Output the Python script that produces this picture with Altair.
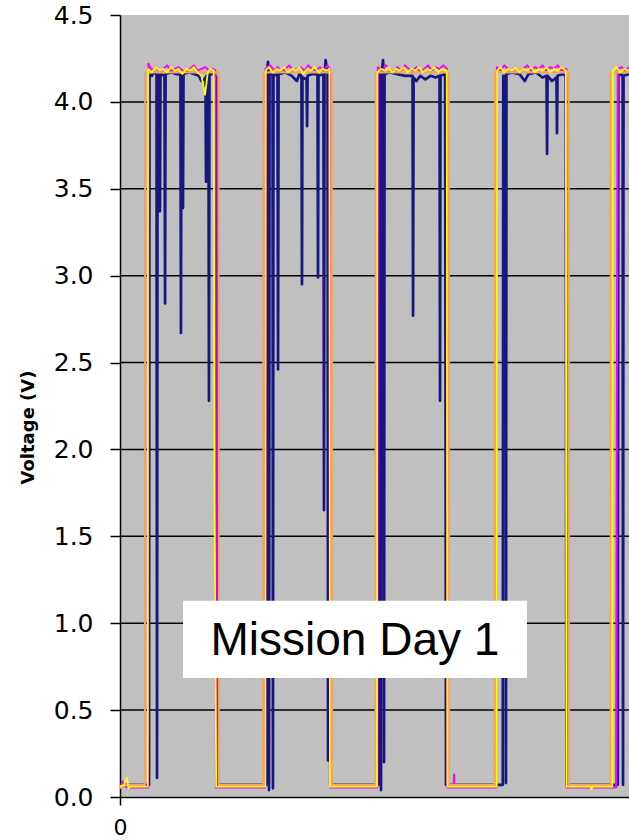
import altair as alt
import pandas as pd

# Time axis in minutes, voltages in volts.
navy_t = [0, 22.8, 23.2, 25.0, 26.5,
          28.7, 29.1, 29.5, 31.0, 31.4, 31.8, 35.0, 35.4, 35.8, 40, 44,
          47.5, 47.9, 48.3, 49.1, 49.5, 49.9, 54, 58, 62, 64, 66,
          67.2, 67.6, 68.0, 69.5, 69.9, 70.3, 74, 75.8, 76.4, 77,
          115.0, 115.4, 116.3, 116.8, 117.1, 117.5, 119.9, 120.2, 120.6,
          123.8, 124.2, 124.6, 130, 135, 139, 141, 142.6, 143.0, 143.4,
          146.6, 147.0, 147.4, 151, 155.2, 155.6, 156.0, 159.9, 160.3, 160.7,
          161.6, 163.1, 163.5, 163.9, 164.6, 165.2,
          203.0, 203.4, 204.8, 205.1, 205.5, 206.7, 207.2, 207.5, 207.9,
          212, 218, 224, 229.9, 230.3, 230.7, 233, 236, 240, 244, 248,
          251.1, 251.5, 251.9, 255.5, 256.2,
          300.8, 301.2, 303.0, 303.3, 303.7, 308, 314, 318, 321, 327, 332,
          335.2, 335.6, 336.0, 339.5, 343.0, 343.4, 343.8, 348, 350.3, 350.8,
          391.2, 391.6, 394, 395.0, 395.3, 395.7, 400]
navy_v = [0.07, 0.07, 4.16, 4.15, 4.17,
          4.16, 0.11, 4.15, 4.16, 3.37, 4.16, 4.15, 2.84, 4.16, 4.17, 4.16,
          4.16, 2.67, 4.15, 4.15, 3.39, 4.16, 4.17, 4.16, 4.15, 4.12, 4.13,
          4.14, 3.54, 4.15, 4.15, 2.28, 4.16, 4.16, 4.14, 0.09, 0.07,
          0.07, 4.16, 4.23, 4.16, 0.04, 4.16, 4.16, 0.05, 4.15,
          4.16, 2.46, 4.16, 4.17, 4.15, 4.12, 4.16, 4.15, 2.95, 4.14,
          4.13, 3.86, 4.15, 4.16, 4.16, 2.99, 4.15, 4.16, 1.65, 4.16,
          4.24, 4.16, 0.21, 4.15, 4.15, 0.07,
          0.07, 4.16, 4.16, 0.04, 4.16, 4.24, 4.16, 0.20, 4.16,
          4.17, 4.16, 4.15, 4.15, 2.77, 4.14, 4.12, 4.15, 4.13, 4.15, 4.14,
          4.15, 2.28, 4.15, 4.16, 0.07,
          0.07, 4.15, 4.15, 0.08, 4.16, 4.17, 4.16, 4.12, 4.16, 4.17, 4.14,
          4.15, 3.70, 4.15, 4.12, 4.14, 3.82, 4.15, 4.16, 4.15, 0.07,
          0.07, 4.15, 4.16, 4.15, 0.07, 4.15, 4.16]

magenta_t = [0, 2, 4, 6, 22.0, 22.3, 25, 28, 31, 34, 37, 40, 43, 46, 49, 52, 55, 58,
             61, 64, 67, 70, 73, 75.0, 75.4,
             114.0, 114.4, 118, 121, 124, 127, 130, 133, 136, 139, 142, 145, 148,
             151, 154, 157, 160, 163, 164.8, 165.2,
             202.2, 202.6, 206, 209, 212, 215, 218, 221, 224, 227, 230, 233, 236,
             239, 242, 245, 248, 251, 254, 257.0, 257.4, 262.2, 262.5, 262.8,
             295.8, 296.2, 299, 302, 305, 308, 311, 314, 317, 320, 323, 326, 329,
             332, 335, 338, 341, 344, 347, 350.6, 351.0,
             389.8, 390.4, 391.2, 394, 397, 400]
magenta_v = [0.05, 0.09, 0.06, 0.055, 0.055, 4.22, 4.18, 4.20, 4.17, 4.19, 4.21, 4.18,
             4.19, 4.20, 4.18, 4.17, 4.19, 4.21, 4.18, 4.19, 4.20, 4.18, 4.19, 4.18, 0.055,
             0.055, 4.19, 4.21, 4.18, 4.20, 4.17, 4.19, 4.21, 4.18, 4.19, 4.20, 4.18, 4.21,
             4.19, 4.18, 4.20, 4.18, 4.21, 4.19, 0.055,
             0.055, 4.20, 4.18, 4.21, 4.19, 4.17, 4.20, 4.18, 4.21, 4.19, 4.18, 4.20, 4.17,
             4.19, 4.21, 4.18, 4.20, 4.19, 4.21, 4.19, 0.055, 0.055, 0.13, 0.055,
             0.055, 4.20, 4.18, 4.21, 4.19, 4.18, 4.20, 4.17, 4.19, 4.21, 4.18, 4.20, 4.19,
             4.21, 4.18, 4.20, 4.19, 4.21, 4.18, 4.19, 0.055,
             0.055, 2.15, 4.19, 4.20, 4.18, 4.20]

yellow_t = [0, 3, 5.5, 6.5, 8, 21.8, 22.0, 25, 28, 31, 34, 37, 40, 43, 46, 49, 52, 55,
            58, 61, 64, 66.8, 69, 71, 73.6, 74.3, 75.6,
            114.2, 114.5, 117, 120, 123, 126, 129, 132, 135, 138, 141, 144, 147, 150,
            153, 156, 159, 162, 164.6, 165.0,
            201.9, 202.2, 205, 208, 211, 214, 217, 220, 223, 226, 229, 232, 235, 238,
            241, 244, 247, 250, 253, 256.8, 257.3,
            296.0, 296.3, 299, 302, 305, 308, 311, 314, 317, 320, 323, 326, 329, 332,
            335, 338, 341, 344, 347, 350.4, 350.9, 370, 370.6, 371.2,
            386.9, 387.2, 390, 393, 396, 400]
yellow_v = [0.06, 0.07, 0.11, 0.05, 0.06, 0.06, 4.19, 4.17, 4.20, 4.18, 4.19, 4.17, 4.20,
            4.18, 4.19, 4.16, 4.19, 4.18, 4.20, 4.17, 4.15, 4.04, 4.17, 4.19, 4.18, 1.72, 0.06,
            0.06, 4.18, 4.20, 4.17, 4.19, 4.18, 4.20, 4.17, 4.19, 4.18, 4.20, 4.16, 4.19, 4.18,
            4.20, 4.17, 4.19, 4.18, 4.19, 0.06,
            0.06, 4.17, 4.19, 4.18, 4.20, 4.17, 4.19, 4.18, 4.20, 4.17, 4.19, 4.18, 4.20, 4.17,
            4.19, 4.18, 4.20, 4.17, 4.19, 4.18, 0.06,
            0.06, 4.18, 4.20, 4.17, 4.19, 4.18, 4.20, 4.17, 4.19, 4.18, 4.20, 4.17, 4.19, 4.18,
            4.20, 4.17, 4.19, 4.18, 4.20, 4.18, 0.06, 0.06, 0.045, 0.06,
            0.06, 4.18, 4.20, 4.17, 4.19, 4.18]

orange_t = [0, 5, 19.6, 19.8, 77.4, 77.6, 112.6, 112.8, 166.4, 166.6, 200.8, 201.0,
            258.4, 258.6, 294.5, 294.7, 352.7, 352.9, 385.6, 385.8, 400]
orange_v = [0.05, 0.07, 0.07, 4.17, 4.17, 0.07, 0.07, 4.17, 4.17, 0.07, 0.07, 4.17,
            4.17, 0.07, 0.07, 4.17, 4.17, 0.07, 0.07, 4.17, 4.17]

grid_levels = [0.5, 1.0, 1.5, 2.0, 2.5, 3.0, 3.5, 4.0]
y_ticks = [0.0, 0.5, 1.0, 1.5, 2.0, 2.5, 3.0, 3.5, 4.0, 4.5]
x_ticks = [0]

# Label box: time span, voltage span, text
note_text = "Mission Day 1"
note_t = [49.5, 319.8]
note_v = [0.685, 1.13]

X_DOMAIN = [0, 400]
Y_DOMAIN = [0, 4.5]

x_scale = alt.Scale(domain=X_DOMAIN, nice=False, zero=False)
y_scale = alt.Scale(domain=Y_DOMAIN, nice=False)

x_axis = alt.Axis(values=x_ticks, title=None, grid=False, labelFont="DejaVu Sans",
                  labelFontSize=22, labelColor="black", tickColor="black", tickSize=8,
                  tickWidth=1.5, domainColor="black", domainWidth=1.5, labelPadding=12,
                  labelFlush=False)
y_axis = alt.Axis(values=y_ticks, format=".1f", title="Voltage (V)", grid=False,
                  labelFont="DejaVu Sans", labelFontSize=25, labelColor="black",
                  tickColor="black", tickSize=10, tickWidth=1.5, domainColor="black",
                  domainWidth=1.5, labelPadding=17,
                  titleFont="DejaVu Sans", titleFontWeight="bold",
                  titleFontSize=18, titleColor="black", titleX=-92, titleY=412,
                  titleAngle=270, titleAlign="center", titleBaseline="middle")


def xy(xfield="t", yfield="v"):
    return dict(x=alt.X(f"{xfield}:Q", scale=x_scale, axis=x_axis),
                y=alt.Y(f"{yfield}:Q", scale=y_scale, axis=y_axis))


def series_layer(t, v, color, width, opacity=1.0):
    df = pd.DataFrame({"t": t, "v": v})
    return alt.Chart(df).mark_line(color=color, strokeWidth=width, opacity=opacity,
                                   clip=True, strokeJoin="round").encode(
        order="t:Q", **xy())


grid = alt.Chart(pd.DataFrame({"v": grid_levels})).mark_rule(
    color="black", strokeWidth=1.5).encode(
    y=alt.Y("v:Q", scale=y_scale, axis=y_axis))

navy = series_layer(navy_t, navy_v, "#17177f", 2.7)
magenta = series_layer(magenta_t, magenta_v, "#ff00ff", 2.0)
orange = series_layer(orange_t, orange_v, "#eda468", 2.2)
yellow = series_layer(yellow_t, yellow_v, "#ffff00", 1.8)

note_box = alt.Chart(pd.DataFrame({"t": [note_t[0]], "t2": [note_t[1]],
                                   "v": [note_v[0]], "v2": [note_v[1]]})).mark_rect(
    color="white").encode(x2="t2:Q", y2="v2:Q", **xy())

note_label = alt.Chart(pd.DataFrame({"t": [(note_t[0] + note_t[1]) / 2],
                                     "v": [(note_v[0] + note_v[1]) / 2],
                                     "label": [note_text]})).mark_text(
    font="Liberation Sans", fontSize=46, color="black", align="center",
    baseline="middle", dy=2).encode(text="label:N", **xy())

chart = alt.layer(grid, navy, magenta, orange, yellow, note_box,
                  note_label).properties(
    width=509, height=782,
    autosize=alt.AutoSizeParams(type="none"),
    padding={"left": 120, "top": 15, "right": 0, "bottom": 43},
    background="white",
).configure_view(fill="#c0c0c0", stroke=None)

chart.save("out.html", embed_options={"renderer": "svg", "actions": False})
